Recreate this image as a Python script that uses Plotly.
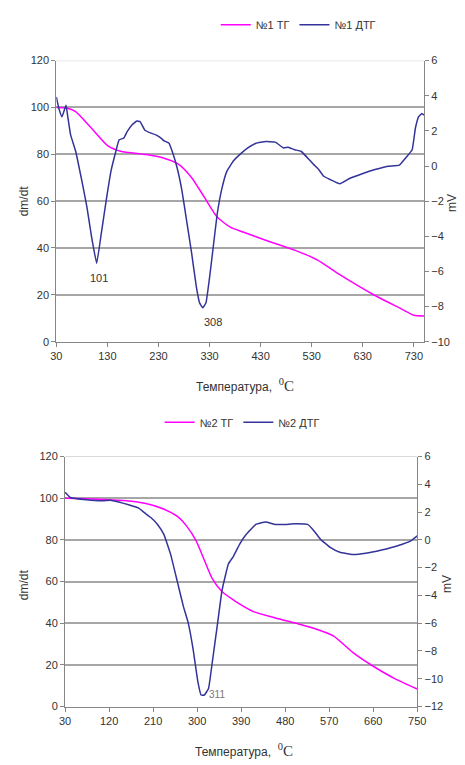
import plotly.graph_objects as go

# ---------- data: chart 1 ----------
t_tg1 = [30, 50, 67.8, 99, 131, 156, 206.5, 238, 269.5, 295, 320, 345, 370.5, 395.7,
         439.8, 496.5, 540.8, 585, 654, 704.6, 730, 750]
tg1 = [100, 99.8, 98.2, 91.1, 83.6, 81.3, 79.9, 78.5, 75.7, 70, 61.6, 53.2, 48.9, 46.8,
       43.3, 39.1, 34.9, 28.6, 19.7, 14.1, 11.3, 11]

t_dtg1 = [30, 35, 41, 49, 52, 58, 68, 80, 90, 99, 109, 118, 127.6, 137, 146.5, 153, 162,
          168.7, 178, 187.6, 194, 203, 212.7, 225, 235, 241, 250.6, 257, 266.5, 276, 285,
          295, 304, 310.5, 316.8, 323, 329.5, 335.7, 345, 354.6, 364, 377, 389, 405, 421,
          440, 458.7, 474.6, 484, 496.5, 509, 522, 534, 543.8, 553, 566, 585, 604, 629,
          654, 679.5, 701.6, 714, 726.7, 733, 739.5, 745.7, 750]
dtg1 = [3.93, 3.27, 2.8, 3.46, 2.9, 1.77, 0.83, -0.85, -2.35, -4.04, -5.54, -3.85, -1.97,
        -0.29, 0.83, 1.49, 1.59, 1.96, 2.34, 2.56, 2.53, 2.05, 1.9, 1.77, 1.59, 1.43, 1.3,
        0.83, -0.1, -1.41, -3.1, -4.98, -6.85, -7.79, -8.07, -7.79, -6.47, -4.98, -2.73,
        -1.23, -0.29, 0.3, 0.65, 1.03, 1.3, 1.4, 1.36, 1.03, 1.07, 0.93, 0.84, 0.46, 0.08,
        -0.2, -0.57, -0.77, -1.01, -0.71, -0.44, -0.2, -0.01, 0.05, 0.46, 0.93, 2.15, 2.81,
        2.99, 2.9]

x_ticks1 = [30, 130, 230, 330, 430, 530, 630, 730]

# ---------- data: chart 2 ----------
t_tg2 = [30, 74, 120, 160, 193, 226, 259, 278.6, 298, 315, 331, 351, 374, 384, 413.7,
         459.8, 506, 545.6, 578.5, 618, 657.6, 704, 750]
tg2 = [100, 99.7, 99.2, 98.7, 97.6, 95.3, 91.4, 86.6, 79.5, 70.1, 61.4, 55.1, 51.2, 49.6,
       45.7, 42.5, 39.7, 37, 33.9, 26, 19.7, 13.4, 8.4]

t_dtg2 = [30, 41, 74, 107, 123.5, 140, 160, 179.7, 192.8, 206, 219, 232, 245.6, 258.8,
          271.9, 281.8, 291.7, 301.6, 308, 314.8, 323.3, 331, 341, 351, 364, 374, 387,
          400.5, 420, 440, 459.8, 479.6, 499, 525.8, 539, 552, 572, 591.7, 618, 644.5,
          677, 710, 736.7, 750]
dtg2 = [3.43, 3.05, 2.88, 2.81, 2.86, 2.72, 2.53, 2.3, 1.94, 1.59, 1.11, 0.4, -1.01, -2.9,
        -4.79, -5.98, -7.86, -10.23, -11.17, -11.17, -10.7, -8.81, -6.21, -3.61, -1.72,
        -1.2, -0.3, 0.4, 1.11, 1.28, 1.11, 1.11, 1.16, 1.11, 0.64, 0.05, -0.54, -0.89,
        -1.06, -0.97, -0.73, -0.42, -0.07, 0.29]

x_ticks2 = [30, 120, 210, 300, 390, 480, 570, 660, 750]

# peak labels
peaks1 = [(113, 27, "101"), (337, 8.6, "308")]
peaks2 = [(341, 6, "311")]

W, H = 465, 765
MAG = "#FF00FF"
NAVY = "#333399"
FONT = "Liberation Sans, Arial, sans-serif"
TXT = "#333333"
AX = "#868686"
GRID = "#A6A6A6"


def px(v):
    return v / W


def py(v):
    return 1 - v / H


fig = go.Figure()
fig.add_trace(go.Scatter(x=t_tg1, y=tg1, name="№1 ТГ", mode="lines",
                         line=dict(color=MAG, width=1.5, shape="spline", smoothing=0.6),
                         xaxis="x", yaxis="y", legend="legend"))
fig.add_trace(go.Scatter(x=t_dtg1, y=dtg1, name="№1 ДТГ", mode="lines",
                         line=dict(color=NAVY, width=1.5, shape="spline", smoothing=0.3),
                         xaxis="x", yaxis="y2", legend="legend"))
fig.add_trace(go.Scatter(x=t_tg2, y=tg2, name="№2 ТГ", mode="lines",
                         line=dict(color=MAG, width=1.5, shape="spline", smoothing=0.6),
                         xaxis="x2", yaxis="y3", legend="legend2"))
fig.add_trace(go.Scatter(x=t_dtg2, y=dtg2, name="№2 ДТГ", mode="lines",
                         line=dict(color=NAVY, width=1.5, shape="spline", smoothing=0.3),
                         xaxis="x2", yaxis="y4", legend="legend2"))

tickfont = dict(family=FONT, size=11, color=TXT)
common_x = dict(showline=True, linecolor=AX, linewidth=1, ticks="outside", ticklen=4,
                tickcolor=AX, showgrid=False, zeroline=False, tickfont=tickfont)
common_yl = dict(showline=True, linecolor=AX, linewidth=1, ticks="outside", ticklen=4,
                 tickcolor=AX, showgrid=True, gridcolor=GRID, gridwidth=1.6, zeroline=False,
                 tickfont=tickfont)
common_yr = dict(showline=True, linecolor=AX, linewidth=1, ticks="outside", ticklen=4,
                 tickcolor=AX, showgrid=False, zeroline=False, tickfont=tickfont, side="right")

fig.update_layout(
    width=W, height=H,
    margin=dict(l=0, r=0, t=0, b=0),
    paper_bgcolor="white", plot_bgcolor="white",
    font=dict(family=FONT, color=TXT),
    xaxis=dict(common_x, domain=[px(52), px(432)], range=[30, 750], tickvals=x_ticks1,
               anchor="y"),
    yaxis=dict(common_yl, domain=[py(341), py(55.5)], range=[0, 120], dtick=20, anchor="x"),
    yaxis2=dict(common_yr, range=[-10, 6], dtick=2, overlaying="y", anchor="x"),
    xaxis2=dict(common_x, domain=[px(61), px(425)], range=[30, 750], tickvals=x_ticks2,
                anchor="y3"),
    yaxis3=dict(common_yl, domain=[py(711.7), py(457.7)], range=[0, 120], dtick=20,
                anchor="x2"),
    yaxis4=dict(common_yr, range=[-12, 6], dtick=2, overlaying="y3", anchor="x2"),
    legend=dict(orientation="h", x=px(302), xanchor="center", y=py(19), yanchor="middle",
                font=dict(family=FONT, size=11, color=TXT), bgcolor="rgba(0,0,0,0)",
                itemwidth=30, tracegroupgap=0),
    legend2=dict(orientation="h", x=px(244), xanchor="center", y=py(423), yanchor="middle",
                 font=dict(family=FONT, size=11, color=TXT), bgcolor="rgba(0,0,0,0)",
                 itemwidth=30, tracegroupgap=0),
    showlegend=True,
)

# top border line at 120 (thin, light)
fig.add_shape(type="line", xref="x domain", yref="y", x0=0, x1=1, y0=120, y1=120,
              line=dict(color="#B5B5B5", width=1))
fig.add_shape(type="line", xref="x2 domain", yref="y3", x0=0, x1=1, y0=120, y1=120,
              line=dict(color="#B5B5B5", width=1))

xtitle = ("Температура,  <span style='font-family:Liberation Serif, Times New Roman, serif;"
          "font-size:15px'><sup>0</sup>C</span>")
ann = []
ann.append(dict(text=xtitle, x=px(247), y=py(385), xref="paper", yref="paper",
                showarrow=False, font=dict(family=FONT, size=12, color=TXT),
                xanchor="center", yanchor="middle"))
ann.append(dict(text=xtitle, x=px(246), y=py(756), xref="paper", yref="paper",
                showarrow=False, font=dict(family=FONT, size=12, color=TXT),
                xanchor="center", yanchor="middle"))
for yc in (198, 588):
    ann.append(dict(text="dm/dt", x=px(18), y=py(yc), xref="paper", yref="paper",
                    showarrow=False, textangle=-90, font=dict(family=FONT, size=12, color=TXT),
                    xanchor="center", yanchor="middle"))
ann.append(dict(text="mV", x=px(461), y=py(200), xref="paper", yref="paper",
                showarrow=False, textangle=-90, font=dict(family=FONT, size=12, color=TXT),
                xanchor="center", yanchor="middle"))
ann.append(dict(text="mV", x=px(456), y=py(587), xref="paper", yref="paper",
                showarrow=False, textangle=-90, font=dict(family=FONT, size=12, color=TXT),
                xanchor="center", yanchor="middle"))
for tx, ty, lab in peaks1:
    ann.append(dict(text=lab, x=tx, y=ty, xref="x", yref="y", showarrow=False,
                    font=dict(family=FONT, size=11, color=TXT)))
for tx, ty, lab in peaks2:
    ann.append(dict(text=lab, x=tx, y=ty, xref="x2", yref="y3", showarrow=False,
                    font=dict(family=FONT, size=10, color="#777777")))
fig.update_layout(annotations=ann)

fig.write_html("out.html",
               config={"displayModeBar": False},
               post_script="document.body.style.margin='0px';"
                           "document.body.style.overflow='hidden';")
